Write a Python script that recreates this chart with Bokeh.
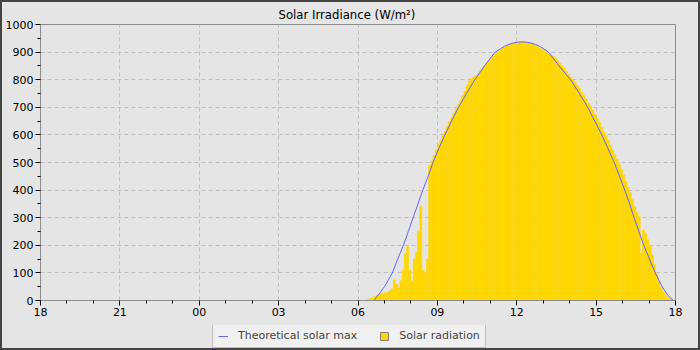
from bokeh.plotting import figure
from bokeh.models import FixedTicker, Legend, LegendItem, Range1d
from bokeh.layouts import column
from bokeh.embed import file_html
from bokeh.resources import INLINE

# ---------------- data ----------------
x_tick_pos = [0, 3, 6, 9, 12, 15, 18, 21, 24]          # hours since 18:00 of previous day
x_tick_labels = ["18", "21", "00", "03", "06", "09", "12", "15", "18"]
y_ticks = [0, 100, 200, 300, 400, 500, 600, 700, 800, 900, 1000]

theory_time = ["06:36", "06:50", "07:00", "07:18", "07:30", "07:43", "07:54", "08:05",
               "08:16", "08:27", "08:39", "08:50", "09:03", "09:17", "09:32", "09:48",
               "10:06", "10:25", "10:47", "11:11", "11:22", "11:32", "11:42", "11:52",
               "12:02", "12:12", "12:22", "12:32", "12:42", "12:52", "13:02", "13:12",
               "13:36", "14:02", "14:22", "14:41", "14:57", "15:13", "15:27", "15:41",
               "15:53", "16:05", "16:16", "16:26", "16:37", "16:48", "17:01", "17:14",
               "17:30", "17:42", "17:55"]
theory_value = [0, 28, 50, 100, 150, 200, 250, 300,
                350, 400, 450, 500, 550, 600, 650, 700,
                750, 800, 850, 900, 911, 921, 928, 933,
                936, 937, 936, 933, 928, 921, 911, 900,
                850, 800, 750, 700, 650, 600, 550, 500,
                450, 400, 350, 300, 250, 200, 150, 100,
                50, 20, 0]

rad_start = "06:20"     # first 5-minute bin
rad_step_min = 5
rad_value = [
    4, 7, 10, 14, 18, 22, 25, 27,                                   # 06:20-06:55
    28, 30, 35, 42, 75, 60, 45, 72, 110, 170, 195, 110,             # 07:00-07:55
    70, 150, 175, 250, 341, 110, 100, 150, 490, 505, 525, 545,      # 08:00-08:55
    565, 580, 598, 612, 630, 648, 662, 678, 695, 710, 725, 742,     # 09
    758, 780, 795, 804, 810, 815, 822, 832, 842, 852, 861, 869,     # 10
    877, 886, 895, 902, 908, 914, 918, 922, 926, 929, 932, 934,     # 11
    936, 937, 937, 936, 935, 933, 931, 928, 925, 921, 915, 910,     # 12
    905, 900, 895, 890, 884, 878, 870, 860, 851, 842, 830, 820,     # 13
    810, 800, 790, 780, 768, 755, 742, 730, 715, 705, 690, 675,     # 14
    660, 645, 628, 612, 597, 580, 563, 546, 528, 512, 495, 475,     # 15
    455, 432, 410, 390, 365, 340, 320, 305, 170, 255, 242, 220,     # 16
    200, 165, 130, 100, 70, 48, 32, 20, 12, 6, 3, 1,                # 17
]

series_labels = ["Theoretical solar max", "Solar radiation"]
LINE_COLOR = "#6464ff"
BAR_COLOR = "#FFD700"


def hours_since_18(t):
    hh, mm = map(int, t.split(":"))
    h = hh + mm / 60.0
    return h - 18 if h >= 18 else h + 6


theory_x = [hours_since_18(t) for t in theory_time]
step_h = rad_step_min / 60.0
rad_x = [hours_since_18(rad_start) + i * step_h + step_h / 2 for i in range(len(rad_value))]

# ---------------- main figure ----------------
BG = "#e5e5e5"
p = figure(width=696, height=323,
           x_range=Range1d(0, 24), y_range=Range1d(0, 1000),
           output_backend="svg", toolbar_location=None,
           title="Solar Irradiance (W/m²)",
           min_border_left=38, min_border_right=23, min_border_top=22, min_border_bottom=25,
           background_fill_color=BG, border_fill_color=BG,
           outline_line_color="#8c8c8c")

p.title.text_font = "DejaVu Sans Condensed"
p.title.text_font_size = "13px"
p.title.text_font_style = "normal"
p.title.text_color = "#000000"
p.title.align = "left"
p.title.offset = 238
p.title.standoff = 2
p.title.vertical_align = "top"

p.xaxis.ticker = FixedTicker(ticks=x_tick_pos,
                             minor_ticks=[h for h in range(25) if h % 3 != 0])
p.xaxis.major_label_overrides = {pos: lab for pos, lab in zip(x_tick_pos, x_tick_labels)}
p.yaxis.ticker = FixedTicker(ticks=y_ticks, minor_ticks=[v + 50 for v in y_ticks[:-1]])

for ax in (p.xaxis[0], p.yaxis[0]):
    ax.axis_line_color = "#8c8c8c"
    ax.major_tick_line_color = "#000000"
    ax.minor_tick_line_color = "#000000"
    ax.major_tick_in = 0
    ax.major_tick_out = 5
    ax.minor_tick_in = 0
    ax.minor_tick_out = 3
    ax.major_label_text_font = "DejaVu Sans"
    ax.major_label_text_font_size = "11px"
    ax.major_label_text_color = "#000000"
    ax.major_label_standoff = 2

for g in (p.xgrid[0], p.ygrid[0]):
    g.grid_line_color = "#c0c0c0"
    g.grid_line_dash = "4 3"
    g.grid_line_width = 1

p.vbar(x=rad_x, top=rad_value, bottom=0, width=step_h,
       fill_color=BAR_COLOR, line_color=BAR_COLOR, line_width=0.5)
p.line(theory_x, theory_value, line_color=LINE_COLOR, line_width=1)

# ---------------- legend strip ----------------
q = figure(width=696, height=23, x_range=Range1d(0, 1), y_range=Range1d(0, 1),
           output_backend="svg", toolbar_location=None,
           x_axis_type=None, y_axis_type=None,
           min_border_left=0, min_border_right=0, min_border_top=0, min_border_bottom=0,
           background_fill_color=BG, border_fill_color=BG, outline_line_color=None)
q.xgrid.visible = False
q.ygrid.visible = False
leg_line = q.line([-5, -4], [-5, -4], line_color=LINE_COLOR, line_width=1)
leg_bar = q.vbar(x=[-5], top=[-4], bottom=-5, width=0.1,
                 fill_color=BAR_COLOR, line_color="#808080", line_width=1)

legend = Legend(items=[LegendItem(label=series_labels[0], renderers=[leg_line]),
                       LegendItem(label=series_labels[1], renderers=[leg_bar])],
                orientation="horizontal", location=(172, 0))
legend.label_text_font = "DejaVu Sans"
legend.label_text_font_size = "11px"
legend.label_height = 11
legend.glyph_width = 10
legend.glyph_height = 10
legend.padding = 5
legend.spacing = 22
legend.label_standoff = 10
legend.margin = 0
legend.border_line_color = "#8c8c8c"
legend.background_fill_color = "#f0f0f0"
legend.background_fill_alpha = 1.0
q.add_layout(legend, "center")

layout = column(p, q, spacing=0)
layout.styles = {"border": "2px solid #444444", "background-color": BG}

open("out.html", "w").write(file_html(layout, INLINE))
